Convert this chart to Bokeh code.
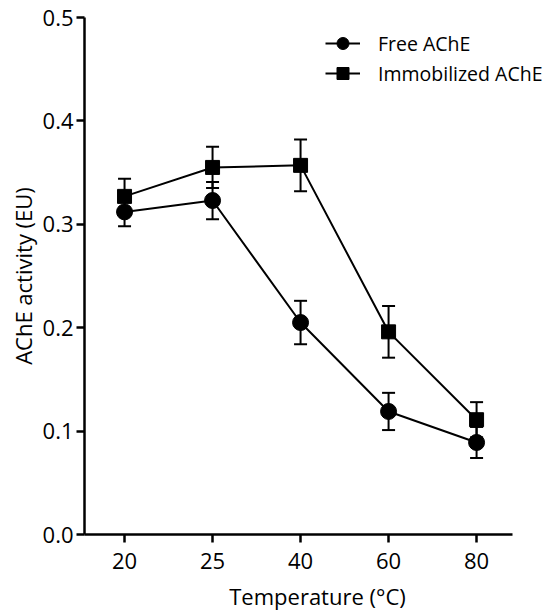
from bokeh.plotting import figure
from bokeh.models import Range1d, FixedTicker, Whisker, TeeHead, ColumnDataSource, Legend, LegendItem
from bokeh.embed import file_html
from bokeh.resources import INLINE

temps = ["20", "25", "40", "60", "80"]
free_vals = [0.312, 0.323, 0.205, 0.119, 0.089]
free_err = [0.014, 0.018, 0.021, 0.018, 0.015]
imm_vals = [0.327, 0.355, 0.357, 0.196, 0.111]
imm_err = [0.017, 0.020, 0.025, 0.025, 0.017]

xs = list(range(len(temps)))
FONT = "Open Sans"

p = figure(width=550, height=616, output_backend="svg", toolbar_location=None,
           x_range=Range1d(-0.455, 4.84), y_range=Range1d(0, 0.5),
           min_border_left=84, min_border_right=0, min_border_top=17, min_border_bottom=82)
p.outline_line_color = None
p.xgrid.visible = False
p.ygrid.visible = False
p.background_fill_color = "white"
p.border_fill_color = "white"

free_src = ColumnDataSource(dict(x=xs, y=free_vals,
                                 lo=[v - e for v, e in zip(free_vals, free_err)],
                                 hi=[v + e for v, e in zip(free_vals, free_err)]))
imm_src = ColumnDataSource(dict(x=xs, y=imm_vals,
                                lo=[v - e for v, e in zip(imm_vals, imm_err)],
                                hi=[v + e for v, e in zip(imm_vals, imm_err)]))

for src in (free_src, imm_src):
    w = Whisker(source=src, base="x", lower="lo", upper="hi", dimension="height",
                line_color="black", line_width=2,
                upper_head=TeeHead(size=13, line_color="black", line_width=2),
                lower_head=TeeHead(size=13, line_color="black", line_width=2))
    p.add_layout(w)

l1 = p.line("x", "y", source=free_src, line_color="black", line_width=2)
m1 = p.scatter("x", "y", source=free_src, marker="circle", size=16, fill_color="black", line_color="black")
l2 = p.line("x", "y", source=imm_src, line_color="black", line_width=2)
m2 = p.scatter("x", "y", source=imm_src, marker="square", size=14, fill_color="black", line_color="black")

legend = Legend(items=[LegendItem(label="Free AChE", renderers=[l1, m1]),
                       LegendItem(label="Immobilized AChE", renderers=[l2, m2])],
                location=(241, 446), padding=0, margin=0, spacing=0,
                glyph_width=35, glyph_height=30, label_standoff=18,
                label_text_font=FONT, label_text_font_size="19.5px", label_text_color="black",
                border_line_color=None, background_fill_alpha=0)
p.add_layout(legend, "center")

for ax in (p.xaxis[0], p.yaxis[0]):
    ax.axis_line_width = 2.5
    ax.axis_line_color = "black"
    ax.major_tick_line_width = 2.5
    ax.major_tick_line_color = "black"
    ax.major_tick_out = 8
    ax.major_tick_in = 0
    ax.minor_tick_out = 0
    ax.minor_tick_in = 0
    ax.major_label_text_font = FONT
    ax.major_label_text_font_size = "22px"
    ax.major_label_text_color = "black"
    ax.axis_label_text_font = FONT
    ax.axis_label_text_font_size = "22px"
    ax.axis_label_text_font_style = "normal"
    ax.axis_label_text_color = "black"

p.xaxis.bounds = (-0.455, 4.41)
p.xaxis.ticker = FixedTicker(ticks=xs)
p.xaxis.major_label_overrides = {i: t for i, t in enumerate(temps)}
p.xaxis.axis_label = "Temperature (°C)"
p.xaxis.major_label_standoff = 10
p.xaxis.axis_label_standoff = 9

p.yaxis.ticker = FixedTicker(ticks=[0.0, 0.1, 0.2, 0.3, 0.4, 0.5])
p.yaxis.major_label_overrides = {0.0: "0.0", 0.1: "0.1", 0.2: "0.2", 0.3: "0.3", 0.4: "0.4", 0.5: "0.5"}
p.yaxis.axis_label = "AChE activity (EU)"
p.yaxis.major_label_standoff = 3
p.yaxis.axis_label_standoff = 2

open("out.html", "w").write(file_html(p, INLINE))
